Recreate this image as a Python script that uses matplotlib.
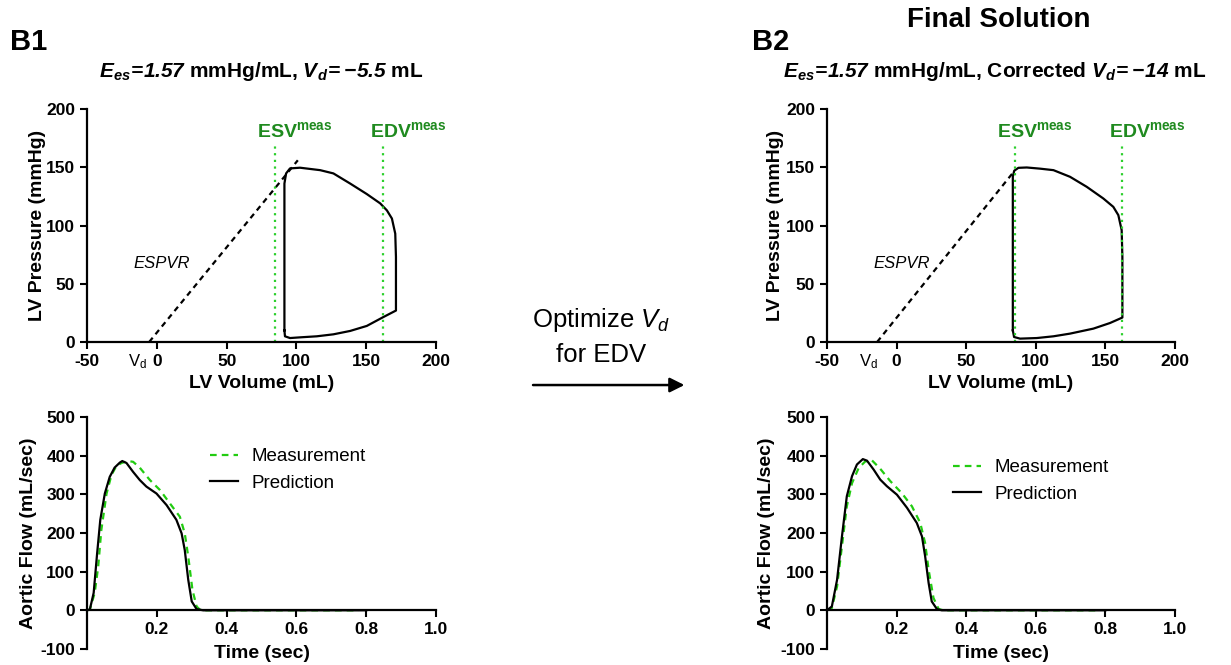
import matplotlib.pyplot as plt

plt.rcParams['font.family'] = ['Liberation Sans', 'DejaVu Sans']
plt.rcParams['mathtext.fontset'] = 'custom'
plt.rcParams['mathtext.rm'] = 'Liberation Sans'
plt.rcParams['mathtext.it'] = 'Liberation Sans:italic'
plt.rcParams['mathtext.bf'] = 'Liberation Sans:bold'
plt.rcParams['mathtext.bfit'] = 'Liberation Sans:bold:italic'
plt.rcParams['axes.unicode_minus'] = False

# ---- B1: initial Vd ----
pv1_vol = [91.4, 91.4, 92.6, 95.4, 102.6, 117, 126.5, 138.5, 150.4, 160, 164.8, 168.4, 170.8,
           171.3, 171.3, 162.4, 150.4, 138.5, 126.5, 114.6, 102.6, 95.4, 91.8, 91.4]
pv1_pres = [10, 136, 144.7, 149, 149.6, 147.5, 144.7, 136, 127, 119, 113, 106, 93,
            73, 27, 21.5, 13.8, 9.5, 6.6, 4.9, 4, 3.4, 4.9, 10]
espvr1_vol = [-5.5, 101]
espvr1_pres = [0, 156]
vd1 = -5.5

pred1_t = [0, 0.008, 0.019, 0.029, 0.038, 0.051, 0.065, 0.079, 0.094, 0.101, 0.113, 0.132,
           0.151, 0.170, 0.199, 0.228, 0.256, 0.271, 0.280, 0.290, 0.300, 0.314, 0.333, 0.8]
pred1_q = [0, 2, 45, 148, 234, 302, 345, 369, 382, 386, 381, 358,
           337, 320, 302, 272, 234, 199, 156, 79, 23, 3, 0, 0]
meas1_t = [0, 0.008, 0.022, 0.032, 0.041, 0.056, 0.070, 0.084, 0.099, 0.118, 0.132, 0.151,
           0.180, 0.209, 0.237, 0.266, 0.280, 0.290, 0.302, 0.314, 0.323, 0.333, 0.778]
meas1_q = [0, 2, 45, 113, 208, 302, 350, 373, 381, 386, 384, 369,
           337, 311, 277, 242, 199, 139, 53, 10, 2, 0, 0]

# ---- B2: corrected Vd ----
pv2_vol = [83.5, 83.5, 84.5, 87.5, 93.5, 103, 112.7, 124.6, 136.6, 148.5, 155.7, 159.3, 161.7,
           162.2, 162.2, 153.3, 141.4, 124.6, 112.7, 100.7, 88.7, 84.4, 83.5]
pv2_pres = [10, 142, 147, 149.5, 149.8, 148.8, 147.5, 141.8, 133.2, 123.2, 116, 108.9, 96,
            73, 21, 16.3, 11.5, 7.2, 4.9, 3.4, 2.9, 4.3, 10]
espvr2_vol = [-14, 83.4]
espvr2_pres = [0, 145]
vd2 = -14

pred2_t = [0, 0.014, 0.029, 0.043, 0.057, 0.072, 0.086, 0.103, 0.115, 0.134, 0.153, 0.172,
           0.201, 0.230, 0.258, 0.273, 0.282, 0.292, 0.301, 0.316, 0.330, 0.8]
pred2_q = [0, 10, 79, 191, 295, 347, 377, 391, 387, 364, 338, 321,
           299, 265, 226, 191, 140, 71, 23, 3, 0, 0]
meas2_t = [0, 0.014, 0.029, 0.043, 0.057, 0.072, 0.091, 0.110, 0.129, 0.153, 0.182, 0.215,
           0.244, 0.268, 0.282, 0.292, 0.306, 0.321, 0.335, 0.775]
meas2_q = [0, 6, 62, 166, 269, 329, 368, 385, 388, 366, 334, 303,
           269, 226, 174, 105, 32, 3, 0, 0]

esv_meas = 85
edv_meas = 162

vol_ticks = [-50, 0, 50, 100, 150, 200]
pres_ticks = [0, 50, 100, 150, 200]
time_ticks = [0.2, 0.4, 0.6, 0.8, 1.0]
flow_ticks = [-100, 0, 100, 200, 300, 400, 500]

txt_green = '#1f8a1f'
line_green = '#2ccf2c'
meas_green = '#22cc11'

fig = plt.figure(figsize=(12.31, 6.65), dpi=100)


def style(ax):
    for s in ['top', 'right']:
        ax.spines[s].set_visible(False)
    for s in ['left', 'bottom']:
        ax.spines[s].set_linewidth(1.6)
    ax.tick_params(direction='out', length=5, width=1.5, labelsize=12.5)
    for lab in ax.get_xticklabels() + ax.get_yticklabels():
        lab.set_fontweight('bold')
    ax.xaxis.label.set_va('center')
    ax.yaxis.label.set_va('center')


def pv_panel(ax, vol, pres, ev, ep, vd, vd_lab_x, ylab_x):
    ax.plot(ev, ep, color='black', lw=1.6, dashes=(2.5, 2))
    ax.plot(vol, pres, color='black', lw=1.6)
    for v in [esv_meas, edv_meas]:
        ax.plot([v, v], [0, 169], color=line_green, lw=1.6, dashes=(1, 2))
    ax.text(esv_meas - 13, 176, r'ESV$^{\mathbf{meas}}$', color=txt_green,
            fontsize=14, fontweight='bold', ha='left', va='baseline')
    ax.text(edv_meas - 9.5, 176, r'EDV$^{\mathbf{meas}}$', color=txt_green,
            fontsize=14, fontweight='bold', ha='left', va='baseline')
    ax.text(3.5, 67, 'ESPVR', style='italic', fontsize=12, ha='center', va='center')
    ax.annotate(r'V$_{\mathrm{d}}$', xy=(vd_lab_x, 0), xytext=(0, -14),
                textcoords='offset points', ha='center', va='center', fontsize=12)
    ax.set_xlim(-50, 200)
    ax.set_ylim(0, 200)
    ax.set_xticks(vol_ticks)
    ax.set_yticks(pres_ticks)
    ax.set_xlabel('LV Volume (mL)', fontsize=14, fontweight='bold')
    ax.set_ylabel('LV Pressure (mmHg)', fontsize=14, fontweight='bold')
    ax.xaxis.set_label_coords(0.5, -0.176)
    ax.yaxis.set_label_coords(ylab_x, 0.5)
    style(ax)


def flow_panel(ax, mt, mq, pt, pq, leg_x, leg_y, ylab_x):
    ax.plot(mt, mq, color=meas_green, lw=1.6, dashes=(3, 2.3), label='Measurement')
    ax.plot(pt, pq, color='black', lw=1.6, label='Prediction')
    ax.set_xlim(0, 1.0)
    ax.set_ylim(-100, 500)
    ax.spines['bottom'].set_position(('data', 0))
    ax.set_xticks(time_ticks)
    ax.set_yticks(flow_ticks)
    ax.set_xlabel('Time (sec)', fontsize=14, fontweight='bold')
    ax.set_ylabel('Aortic Flow (mL/sec)', fontsize=14, fontweight='bold')
    ax.xaxis.set_label_coords(0.5, -0.018)
    ax.yaxis.set_label_coords(ylab_x, 0.5)
    ax.legend(loc='upper left', bbox_to_anchor=(leg_x, leg_y), frameon=False, fontsize=13.5,
              handlelength=1.5, handletextpad=0.7, labelspacing=0.5, borderpad=0, borderaxespad=0)
    style(ax)


ax1 = fig.add_axes([0.0707, 0.4857, 0.2835, 0.3504])
ax2 = fig.add_axes([0.0707, 0.0241, 0.2835, 0.3489])
ax3 = fig.add_axes([0.6718, 0.4857, 0.2827, 0.3504])
ax4 = fig.add_axes([0.6718, 0.0241, 0.2827, 0.3489])

pv_panel(ax1, pv1_vol, pv1_pres, espvr1_vol, espvr1_pres, vd1, -13.5, -0.143)
flow_panel(ax2, meas1_t, meas1_q, pred1_t, pred1_q, 0.352, 0.866, -0.169)
pv_panel(ax3, pv2_vol, pv2_pres, espvr2_vol, espvr2_pres, vd2, -20, -0.149)
flow_panel(ax4, meas2_t, meas2_q, pred2_t, pred2_q, 0.362, 0.819, -0.175)

# panel letters and titles
fig.text(0.008, 0.937, 'B1', fontsize=21, fontweight='bold', va='center')
fig.text(0.611, 0.937, 'B2', fontsize=21, fontweight='bold', va='center')
fig.text(0.811, 0.970, 'Final Solution', fontsize=20, fontweight='bold', ha='center', va='center')
fig.text(0.2125, 0.892,
         r'$\mathbfit{E_{es}\!=\!1.57}$ mmHg/mL, $\mathbfit{V_d\!=\!-\!5.5}$ mL',
         fontsize=15, fontweight='bold', ha='center', va='center')
fig.text(0.808, 0.892,
         r'$\mathbfit{E_{es}\!=\!1.57}$ mmHg/mL, Corrected $\mathbfit{V_d\!=\!-\!14}$ mL',
         fontsize=15, fontweight='bold', ha='center', va='center')

# middle arrow
fig.text(0.488, 0.519, r'Optimize $V_d$', fontsize=18.5, ha='center', va='center')
fig.text(0.488, 0.466, 'for EDV', fontsize=18.5, ha='center', va='center')
ax1.annotate('', xy=(0.556, 0.421), xytext=(0.433, 0.421), xycoords='figure fraction',
             textcoords='figure fraction', annotation_clip=False,
             arrowprops=dict(arrowstyle='-|>', lw=1.8, color='black', mutation_scale=22,
                             shrinkA=0, shrinkB=0))

fig.savefig('out.png', dpi=100)
